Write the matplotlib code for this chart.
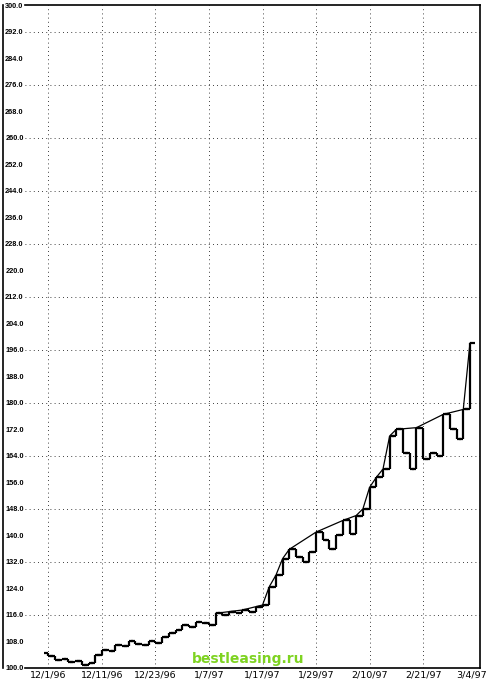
import numpy as np
import matplotlib.pyplot as plt
import matplotlib.transforms as mtransforms
from matplotlib.lines import Line2D

# daily equity values (open / close), one bar per trading day
opens = [104.5, 103.5, 102.5, 102.8, 101.8, 102.0, 100.8, 101.5, 104.0, 105.5,
         105.0, 106.8, 106.5, 108.0, 107.2, 107.0, 108.2, 107.5, 109.5, 110.5,
         111.5, 113.0, 112.5, 114.0, 113.5, 113.0, 116.5, 116.0, 117.0, 116.5,
         117.5, 117.0, 118.5, 119.0, 124.5, 128.0, 133.0, 135.8, 133.5, 132.0,
         135.0, 141.0, 138.5, 136.0, 140.0, 144.5, 140.5, 146.0, 148.0, 154.5,
         157.5, 160.0, 170.0, 172.0, 165.0, 160.0, 172.5, 163.0, 165.0, 164.0,
         176.5, 172.0, 169.0, 178.0]
closes = [103.5, 102.5, 102.8, 101.8, 102.0, 100.8, 101.5, 104.0, 105.5, 105.0,
          106.8, 106.5, 108.0, 107.2, 107.0, 108.2, 107.5, 109.5, 110.5, 111.5,
          113.0, 112.5, 114.0, 113.5, 113.0, 116.5, 116.0, 117.0, 116.5, 117.5,
          117.0, 118.5, 119.0, 124.5, 128.0, 133.0, 135.8, 133.5, 132.0, 135.0,
          141.0, 138.5, 136.0, 140.0, 144.5, 140.5, 146.0, 148.0, 154.5, 157.5,
          160.0, 170.0, 172.0, 165.0, 160.0, 172.5, 163.0, 165.0, 164.0, 176.5,
          172.0, 169.0, 178.0, 198.0]

date_labels = ["12/1/96", "12/11/96", "12/23/96", "1/7/97", "1/17/97",
               "1/29/97", "2/10/97", "2/21/97", "3/4/97"]
date_pos = [0, 8, 16, 24, 32, 40, 48, 56, 64]

W, H = 489, 686
fig = plt.figure(figsize=(W / 100, H / 100), dpi=100)
ax = fig.add_axes([25 / W, 1 - 668 / H, 455 / W, 663 / H])

# dotted grid
for y in range(116, 300, 16):
    ax.axhline(y, color="black", lw=0.6, ls=(0, (1, 4)), zorder=0)
for x in date_pos[:-1]:
    ax.axvline(x, color="black", lw=0.6, ls=(0, (1, 4)), zorder=0)

# bars: vertical from open to close, left tick = open, right tick = close
days = np.arange(len(closes))
o = np.array(opens)
c = np.array(closes)
ax.vlines(days, np.minimum(o, c), np.maximum(o, c), color="black", lw=1.6)
ax.hlines(o, days - 0.7, days, color="black", lw=1.6)
ax.hlines(c, days, days + 0.7, color="black", lw=1.6)

# line through new equity highs
peak = np.maximum.accumulate(c)
new_high = (c >= peak) & (days >= 24)
ax.plot(days[new_high], c[new_high], color="black", lw=0.9)

ax.set_xlim(-3.5, 64.5)
ax.set_ylim(100, 300)
yt = np.arange(100, 301, 8)
ax.set_yticks(yt)
ax.set_yticklabels([f"{v:.1f}" for v in yt], fontsize=5.3, fontweight="bold",
                   family="Liberation Sans")
ax.set_xticks(date_pos)
ax.set_xticklabels(date_labels, fontsize=6.8)
ax.tick_params(axis="y", length=0, pad=1)
ax.tick_params(axis="x", length=0, pad=2)
last = ax.get_xticklabels()[-1]
last.set_ha("right")
last.set_transform(last.get_transform() +
                   mtransforms.ScaledTranslation(10 / 100, 0, fig.dpi_scale_trans))
ax.spines["left"].set_visible(False)
for s in ["top", "right", "bottom"]:
    ax.spines[s].set_linewidth(1.2)

fig.add_artist(Line2D([3 / W, 3 / W], [1 - 668 / H, 1 - 5 / H],
                      color="black", lw=1.2))

fig.text(248 / W, 1 - 659 / H, "bestleasing.ru", color="#7ed321",
         fontsize=10, fontweight="bold", ha="center", va="center")

fig.savefig("out.png", dpi=100)
